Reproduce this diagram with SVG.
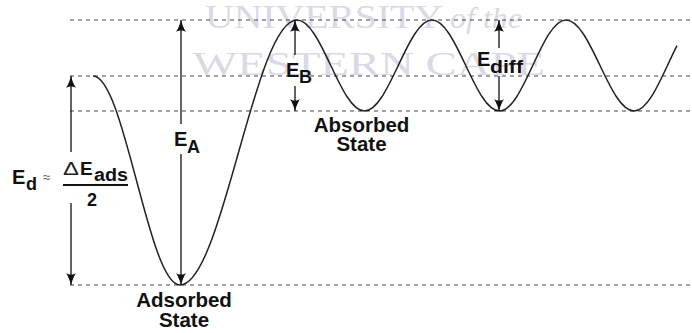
<svg xmlns="http://www.w3.org/2000/svg" width="692" height="333" viewBox="0 0 692 333">
  <style>
    .wm { font-family: "Liberation Serif", "DejaVu Serif", serif; fill: #d9d9e7; }
    .lvl { stroke: #444; stroke-width: 1.2; stroke-dasharray: 4 4; fill: none; }
    .pot { stroke: #222; stroke-width: 1.5; fill: none; }
    .arr { stroke: #111; stroke-width: 1.3; fill: none; marker-end: url(#head); }
    .lbl { font-family: "Liberation Sans", Arial, sans-serif; font-weight: bold; fill: #111; }
  </style>
  <defs>
    <marker id="head" viewBox="0 0 12 10" refX="12" refY="5" markerWidth="12" markerHeight="10" markerUnits="userSpaceOnUse" orient="auto">
      <path d="M12,5 C8,4 3,2 0,0 C2,3 2,7 0,10 C3,8 8,6 12,5 Z" fill="#111"/>
    </marker>
  </defs>
  <rect width="692" height="333" fill="#fff"/>

  <!-- background watermark lettering -->
  <g id="watermark">
    <text class="wm" x="205" y="28" font-size="33" textLength="238" lengthAdjust="spacingAndGlyphs">UNIVERSITY</text>
    <text class="wm" x="450" y="28" font-size="30" font-style="italic" textLength="72" lengthAdjust="spacingAndGlyphs">of the</text>
    <text class="wm" x="193" y="75" font-size="33" textLength="352" lengthAdjust="spacingAndGlyphs">WESTERN CAPE</text>
  </g>

  <!-- energy levels -->
  <g id="levels">
    <line class="lvl" x1="70" y1="20" x2="692" y2="20"/>
    <line class="lvl" x1="70" y1="76" x2="692" y2="76"/>
    <line class="lvl" x1="70" y1="111" x2="692" y2="111"/>
    <line class="lvl" x1="70" y1="285" x2="692" y2="285"/>
  </g>

  <!-- potential energy curve -->
  <g id="potential">
    <path class="pot" d="M93,76 C124.6,76 148.4,285 180,285 C222.5,285 254.5,20 297,20 C321.5,20 340,111 364.5,111 C389,111 407.5,20 432,20 C456.5,20 475,111 499.5,111 C523.5,111 542,20 566,20 C590.7,20 609.3,111 634,111 C649.8,111 663.1,72.6 677,45.6"/>
  </g>

  <!-- double-headed energy arrows, split around their labels -->
  <g id="connectors">
    <line class="arr" x1="71" y1="152" x2="71" y2="76"/>
    <line class="arr" x1="71" y1="203" x2="71" y2="285"/>
    <line class="arr" x1="181" y1="124" x2="181" y2="20"/>
    <line class="arr" x1="181" y1="154" x2="181" y2="285"/>
    <line class="arr" x1="295" y1="55" x2="295" y2="20"/>
    <line class="arr" x1="295" y1="86" x2="295" y2="111"/>
    <line class="arr" x1="499" y1="48" x2="499" y2="20"/>
    <line class="arr" x1="499" y1="76" x2="499" y2="111"/>
  </g>

  <g id="label-Ed">
    <text class="lbl" x="12" y="184" font-size="20">E</text>
    <text class="lbl" x="26" y="190" font-size="18">d</text>
    <text x="43" y="182" font-size="14" fill="#666" font-family="Liberation Sans, Arial, sans-serif">≈</text>
    <text x="63" y="175" font-size="18" fill="#222" font-family="Liberation Sans, Arial, sans-serif" textLength="16" lengthAdjust="spacingAndGlyphs">Δ</text>
    <text class="lbl" x="80" y="175" font-size="19">E</text>
    <text class="lbl" x="94" y="181" font-size="18" textLength="34" lengthAdjust="spacingAndGlyphs">ads</text>
    <line x1="63" y1="185" x2="128" y2="185" stroke="#111" stroke-width="2"/>
    <text class="lbl" x="87" y="206" font-size="18">2</text>
  </g>

  <g id="label-EA">
    <text class="lbl" x="174" y="146" font-size="20">E</text>
    <text class="lbl" x="187" y="153" font-size="18">A</text>
  </g>

  <g id="label-EB">
    <text class="lbl" x="286" y="77" font-size="20">E</text>
    <text class="lbl" x="299" y="83" font-size="18">B</text>
  </g>

  <g id="label-Ediff">
    <text class="lbl" x="477" y="66" font-size="20">E</text>
    <text class="lbl" x="490" y="73" font-size="18" textLength="33" lengthAdjust="spacingAndGlyphs">diff</text>
  </g>

  <g id="label-absorbed">
    <text class="lbl" x="361.5" y="132" font-size="20.5" text-anchor="middle">Absorbed</text>
    <text class="lbl" x="361.5" y="151" font-size="20.5" text-anchor="middle">State</text>
  </g>

  <g id="label-adsorbed">
    <text class="lbl" x="184" y="307" font-size="20.5" text-anchor="middle">Adsorbed</text>
    <text class="lbl" x="184" y="327" font-size="20.5" text-anchor="middle">State</text>
  </g>
</svg>
